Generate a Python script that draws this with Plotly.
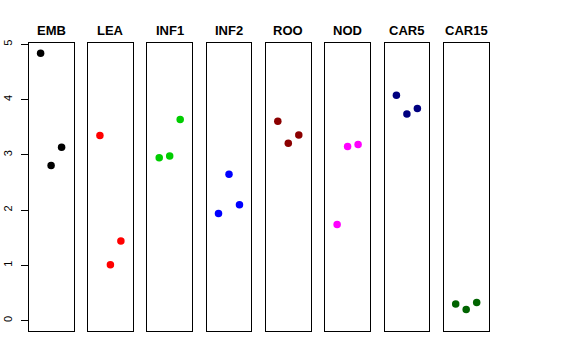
import plotly.graph_objects as go

groups = ["EMB", "LEA", "INF1", "INF2", "ROO", "NOD", "CAR5", "CAR15"]
colors = ["#000000", "#FF0000", "#00CD00", "#0000FF", "#8B0000", "#FF00FF", "#000080", "#006400"]
rep = [1, 2, 3]
values = {
    "EMB": [4.84, 2.81, 3.14],
    "LEA": [3.35, 1.01, 1.44],
    "INF1": [2.95, 2.98, 3.64],
    "INF2": [1.94, 2.65, 2.10],
    "ROO": [3.61, 3.21, 3.36],
    "NOD": [1.74, 3.15, 3.19],
    "CAR5": [4.08, 3.74, 3.84],
    "CAR15": [0.30, 0.20, 0.33],
}
yticks = [0, 1, 2, 3, 4, 5]

W, H = 576, 360
left0, step, pw = 28.7, 59.3, 44.8
top_px, bot_px = 43.0, 331.0

fig = go.Figure()
layout = dict(
    width=W, height=H,
    margin=dict(l=0, r=0, t=0, b=0, autoexpand=False),
    paper_bgcolor="white", plot_bgcolor="white",
    showlegend=False,
    font=dict(family="Liberation Sans, Arial, sans-serif", color="black"),
)
annotations = []
for i, g in enumerate(groups):
    n = "" if i == 0 else str(i + 1)
    x0 = (left0 + i * step) / W
    x1 = (left0 + i * step + pw) / W
    fig.add_trace(go.Scatter(
        x=rep, y=values[g], mode="markers",
        marker=dict(color=colors[i], size=7.5),
        xaxis="x" + n, yaxis="y" + n,
    ))
    layout["xaxis" + n] = dict(
        domain=[x0, x1], range=[-0.136, 4.136], showgrid=False, zeroline=False,
        showticklabels=False, ticks="", showline=True, mirror=True,
        linecolor="black", linewidth=1, anchor="y" + n, fixedrange=True,
        automargin=False,
    )
    ya = dict(
        domain=[(H - bot_px) / H, (H - top_px) / H], range=[-0.187, 5.025],
        showgrid=False, zeroline=False, showline=True, mirror=True,
        linecolor="black", linewidth=1, anchor="x" + n, fixedrange=True,
        automargin=False,
    )
    if i == 0:
        ya.update(tickmode="array", tickvals=yticks, ticktext=[str(t) for t in yticks],
                  ticks="outside", ticklen=7, tickcolor="black", tickangle=-90,
                  tickfont=dict(size=11, color="black"), ticklabelstandoff=4)
    else:
        ya.update(showticklabels=False, ticks="")
    layout["yaxis" + n] = ya
    annotations.append(dict(
        text="<b>" + g + "</b>", x=(x0 + x1) / 2, y=(H - 30.5) / H,
        xref="paper", yref="paper", showarrow=False,
        xanchor="center", yanchor="middle",
        font=dict(size=13, color="black", family="Liberation Sans, Arial, sans-serif"),
    ))
layout["annotations"] = annotations
fig.update_layout(**layout)
fig.write_html("out.html", config={"displayModeBar": False},
               post_script="document.body.style.margin='0';document.body.style.overflow='hidden';")
